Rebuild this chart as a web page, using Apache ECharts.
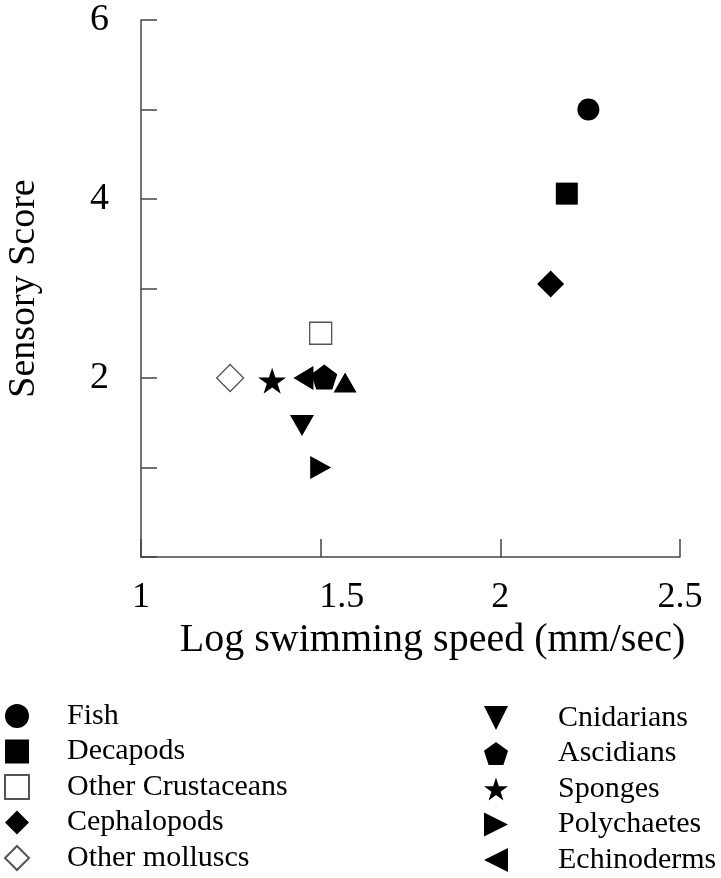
<!DOCTYPE html>
<html>
<head>
<meta charset="utf-8">
<script src="https://cdn.jsdelivr.net/npm/echarts@6/dist/echarts.min.js"></script>
<style>
html,body{margin:0;padding:0;background:#fff;}
#chart{width:721px;height:878px;}
</style>
</head>
<body>
<div id="chart"></div>
<script>
// ---- data ----
var groupNames = ['Fish', 'Decapods', 'Other Crustaceans', 'Cephalopods', 'Other molluscs',
                  'Cnidarians', 'Ascidians', 'Sponges', 'Polychaetes', 'Echinoderms', 'Unlabelled'];
var fish = [[2.245, 5.0]];
var decapods = [[2.185, 4.06]];
var otherCrustaceans = [[1.5, 2.5]];
var cephalopods = [[2.14, 3.05]];
var otherMolluscs = [[1.248, 2.0]];
var cnidarians = [[1.448, 1.47]];
var ascidians = [[1.51, 2.01]];
var sponges = [[1.365, 1.97]];
var polychaetes = [[1.5, 1.0]];
var echinoderms = [[1.452, 2.0]];
var unlabelled = [[1.568, 1.95]];
var xTicks = [1, 1.5, 2, 2.5];
var yTickLabels = [2, 4, 6];

var STAR = 'path://M50,0 L61.23,34.55 L97.55,34.55 L68.16,55.9 L79.39,90.45 L50,69.1 L20.61,90.45 L31.84,55.9 L2.45,34.55 L38.77,34.55 Z';
var PENT = 'path://M50,0 L97.55,34.55 L79.39,90.45 L20.61,90.45 L2.45,34.55 Z';
var TRI_DOWN = 'path://M0,0 L10,0 L5,10 Z';
var TRI_RIGHT = 'path://M0,0 L10,5 L0,10 Z';
var TRI_LEFT = 'path://M10,0 L0,5 L10,10 Z';

var FONT = "'Liberation Serif', 'Times New Roman', serif";
var filled = {color: '#000', opacity: 1};
var open = {color: '#fff', borderColor: '#555', borderWidth: 1.3, opacity: 1};

function s(name, data, symbol, size, style) {
  return {
    name: name, type: 'scatter', data: data, symbol: symbol, symbolSize: size,
    itemStyle: style || filled, z: 3,
    emphasis: {disabled: true}
  };
}

var series = [
  s(groupNames[0], fish, 'circle', 22),
  s(groupNames[1], decapods, 'rect', 22),
  s(groupNames[2], otherCrustaceans, 'rect', 22, open),
  s(groupNames[3], cephalopods, 'diamond', 27),
  s(groupNames[4], otherMolluscs, 'diamond', 27, open),
  s(groupNames[5], cnidarians, TRI_DOWN, [24, 21]),
  s(groupNames[6], ascidians, PENT, [26, 25]),
  s(groupNames[7], sponges, STAR, [28, 26]),
  s(groupNames[8], polychaetes, TRI_RIGHT, [21, 23]),
  s(groupNames[9], echinoderms, TRI_LEFT, [20, 24]),
  s(groupNames[10], unlabelled, 'triangle', [23, 20])
];

function legendCol(names, left, top, padLeft) {
  return {
    orient: 'vertical', left: left, top: top, padding: 0, height: 200,
    data: names, itemWidth: 24, itemHeight: 24, itemGap: 5.5,
    selectedMode: false,
    textStyle: {fontFamily: FONT, fontSize: 30, color: '#000', lineHeight: 30, padding: [0, 0, 0, padLeft]}
  };
}

var chart = echarts.init(document.getElementById('chart'), null, {renderer: 'canvas'});
chart.setOption({
  backgroundColor: '#fff',
  animation: false,
  grid: {left: 141, top: 20, right: 41, bottom: 321, containLabel: false, outerBoundsMode: 'none'},
  xAxis: {
    type: 'value', min: 1, max: 2.5, interval: 0.5,
    name: 'Log swimming speed (mm/sec)', nameLocation: 'middle', nameGap: 63,
    nameTextStyle: {fontFamily: FONT, fontSize: 40, color: '#000', padding: [0, 0, 0, 44]},
    axisLine: {lineStyle: {color: '#444', width: 1.5}},
    axisTick: {show: true, inside: true, length: 18, lineStyle: {color: '#444', width: 1.5}},
    splitLine: {show: false},
    axisLabel: {
      fontFamily: FONT, fontSize: 36, color: '#000', margin: 23,
      formatter: function (v) {
        if (xTicks.indexOf(v) < 0) return '';
        if (v === 1.5) return '{sh|1.5}';
        return String(v);
      },
      rich: {sh: {fontFamily: FONT, fontSize: 36, color: '#000', padding: [0, 0, 0, 42]}}
    }
  },
  yAxis: {
    type: 'value', min: 0, max: 6, interval: 1,
    name: 'Sensory Score', nameLocation: 'middle', nameGap: 98,
    nameTextStyle: {fontFamily: FONT, fontSize: 38, color: '#000'},
    axisLine: {lineStyle: {color: '#444', width: 1.5}},
    axisTick: {show: true, inside: true, length: 16, lineStyle: {color: '#444', width: 1.5}},
    splitLine: {show: false},
    axisLabel: {
      fontFamily: FONT, fontSize: 38, color: '#000', margin: 32,
      formatter: function (v) { return yTickLabels.indexOf(v) >= 0 ? String(v) : ''; }
    }
  },
  legend: [
    legendCol(groupNames.slice(0, 5), 4, 701, 33),
    legendCol(groupNames.slice(5, 10), 484, 703, 45)
  ],
  series: series
});
</script>
</body>
</html>
